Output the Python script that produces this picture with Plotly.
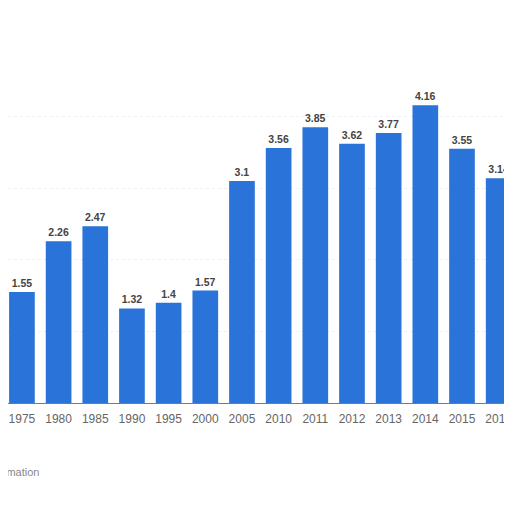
import plotly.graph_objects as go

years = ['1975', '1980', '1985', '1990', '1995', '2000', '2005',
         '2010', '2011', '2012', '2013', '2014', '2015', '2016']
values = [1.55, 2.26, 2.47, 1.32, 1.4, 1.57, 3.1,
          3.56, 3.85, 3.62, 3.77, 4.16, 3.55, 3.14]

fig = go.Figure(go.Bar(
    x=years,
    y=values,
    marker=dict(color='#2a73d9', line=dict(width=0)),
    texttemplate='<b>%{y}</b>',
    textposition='outside',
    textfont=dict(family='Arial, Liberation Sans', size=10.5, color='#444444'),
    cliponaxis=False,
))

fig.add_annotation(
    text='Additional Information', xref='paper', yref='paper',
    x=0.067, y=-0.215, xanchor='right', showarrow=False,
    font=dict(family='Arial, Liberation Sans', size=11, color='#888888'),
)

# page body has an 8px margin, so the figure is 504 wide to fill the view
fig.update_layout(
    width=504, height=504,
    margin=dict(l=0, r=0, t=37, b=109),
    paper_bgcolor='white', plot_bgcolor='white',
    bargap=0.3,
    showlegend=False,
    xaxis=dict(
        type='category',
        range=[-0.38, 13.2],
        showline=True, linecolor='#7a7a7a', linewidth=1,
        showgrid=False, ticks='', ticklabelstandoff=5,
        tickfont=dict(family='Arial, Liberation Sans', size=12, color='#666666'),
    ),
    yaxis=dict(
        range=[0, 5],
        showticklabels=False,
        showgrid=True, gridcolor='#f0f0f0', griddash='dot',
        dtick=1, zeroline=False,
    ),
)

fig.write_html('out.html')
